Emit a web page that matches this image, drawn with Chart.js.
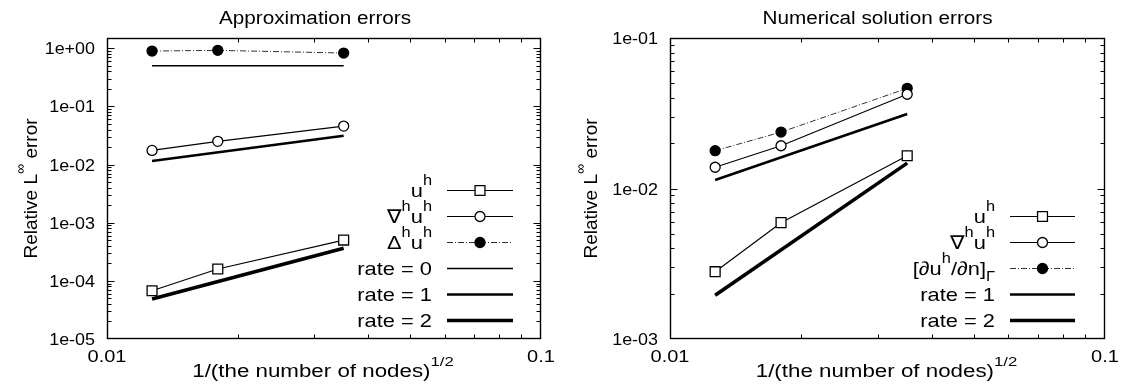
<!DOCTYPE html>
<html><head><meta charset="utf-8">
<script src="https://cdn.jsdelivr.net/npm/chart.js@4.4.0/dist/chart.umd.min.js"></script>
<style>
html,body{margin:0;padding:0;background:#fff;width:1121px;height:391px;overflow:hidden}
#wl{position:absolute;left:0;top:0;width:560px;height:391px}
#wr{position:absolute;left:560px;top:0;width:561px;height:391px}
</style></head><body>
<div id="wl"><canvas id="cl" width="560" height="391"></canvas></div>
<div id="wr"><canvas id="cr" width="561" height="391"></canvas></div>
<script>
// ---------------- data ----------------
const hValues = [0.0127, 0.0180, 0.0351];          // 1/(number of nodes)^1/2
const rateX = [0.0127, 0.0351];                     // x extent of reference slopes

// Approximation errors (left)
const approxU    = [6.76e-5, 1.60e-4, 5.03e-4];
const approxGrad = [0.0175, 0.0251, 0.0459];
const approxLap  = [0.895, 0.920, 0.827];
const approxRate0 = [0.5, 0.5];
const approxRate1 = [0.0115, 0.0313];
const approxRate2 = [4.86e-5, 3.62e-4];

// Numerical solution errors (right)
const numU    = [0.0028, 0.00593, 0.0165];
const numGrad = [0.01384, 0.01924, 0.0423];
const numFlux = [0.01783, 0.0237, 0.0463];
const numRate1 = [0.01139, 0.0313];
const numRate2 = [0.00195, 0.01474];

// text
const leftTitle = 'Approximation errors';
const rightTitle = 'Numerical solution errors';
const xTitle = [{t:'1/(the number of nodes)'},{t:'1/2',sup:true}];
const yTitle = [{t:'Relative L'},{t:'\u221E',sup:true},{t:' error'}];
const labU    = [{t:'u'},{t:'h',sup:true}];
const labGrad = [{t:'\u2207'},{t:'h',sup:true},{t:'u'},{t:'h',sup:true}];
const labLap  = [{t:'\u0394'},{t:'h',sup:true},{t:'u'},{t:'h',sup:true}];
const labFlux = [{t:'[\u2202u'},{t:'h',sup:true},{t:'/\u2202n]'},{t:'\u0393',sub:true}];
const labR0 = [{t:'rate = 0'}];
const labR1 = [{t:'rate = 1'}];
const labR2 = [{t:'rate = 2'}];

// tick marks
const xMinorTicks = [0.02,0.03,0.04,0.05,0.06,0.07,0.08,0.09];
const minorMult = [2,3,4,5,6,7,8,9];

// ---------------- helpers ----------------
const FONT = '"Liberation Sans", Arial, Helvetica, sans-serif';
const SX = 1.15;      // horizontal stretch of the reference lettering
const TXT = 18;       // title size
const LEG = 19;       // legend size
const TICK = 16;      // tick label size

function pts(xs, ys){ return xs.map((x,i)=>({x:x, y:ys[i]})); }

function ds(label, xs, ys, st){
  return Object.assign({
    label: label, data: pts(xs, ys), showLine: true, fill: false,
    borderColor: '#000', backgroundColor: '#000', borderWidth: 1.2,
    pointRadius: 0, pointHoverRadius: 0, pointBorderColor: '#000',
    pointBackgroundColor: '#fff', pointBorderWidth: 1.3, tension: 0
  }, st);
}

function segSize(s, size){ return (s.sup||s.sub) ? size*0.75 : size; }
function richWidth(ctx, segs, size){
  let w = 0;
  for (const s of segs){
    ctx.font = segSize(s,size) + 'px ' + FONT;
    w += ctx.measureText(s.t).width;
  }
  return w;
}
function drawRich(ctx, segs, x, y, align, size, sx){
  sx = sx || 1;
  const w = richWidth(ctx, segs, size) * sx;
  const x0 = align === 'right' ? x - w : (align === 'center' ? x - w/2 : x);
  ctx.save();
  ctx.translate(x0, y); ctx.scale(sx, 1);
  ctx.textAlign = 'left'; ctx.textBaseline = 'alphabetic'; ctx.fillStyle = '#000';
  let cx = 0;
  for (const s of segs){
    ctx.font = segSize(s,size) + 'px ' + FONT;
    const dy = s.sup ? -size*0.62 : (s.sub ? size*0.32 : 0);
    ctx.fillText(s.t, cx, dy);
    cx += ctx.measureText(s.t).width;
  }
  ctx.restore();
}
function drawMarker(ctx, style, r, x, y, fillC, bw){
  ctx.save();
  ctx.lineWidth = bw; ctx.strokeStyle = '#000'; ctx.fillStyle = fillC;
  ctx.beginPath();
  if (style === 'rect'){ const s = Math.SQRT1_2 * r; ctx.rect(x-s, y-s, 2*s, 2*s); }
  else ctx.arc(x, y, r, 0, Math.PI*2);
  ctx.fill(); ctx.stroke();
  ctx.restore();
}

function yTickLabel(v){
  const e = Math.round(Math.log10(v));
  const b = Math.pow(10, e);
  if (Math.abs(v - b) / b > 1e-6) return '';
  return '1e' + (e < 0 ? '-' : '+') + String(Math.abs(e)).padStart(2, '0');
}
function xTickLabel(v){
  if (Math.abs(v - 0.01) < 1e-9) return '0.01';
  if (Math.abs(v - 0.1) < 1e-9) return '0.1';
  return '';
}

const framePlugin = {
  id: 'gnuframe',
  afterDraw(chart, args, o){
    const ctx = chart.ctx, a = chart.chartArea, xs = chart.scales.x, ys = chart.scales.y;
    ctx.save();
    ctx.strokeStyle = '#000'; ctx.lineWidth = 1.4;
    const L = Math.round(a.left)+0.5, R = Math.round(a.right)-0.5, T = Math.round(a.top)+0.5, B = Math.round(a.bottom)-0.5;
    ctx.strokeRect(L, T, R-L, B-T);
    ctx.lineWidth = 1;
    ctx.beginPath();
    for (const v of xMinorTicks){
      const p = Math.round(xs.getPixelForValue(v))+0.5;
      ctx.moveTo(p, B); ctx.lineTo(p, B-4);
      ctx.moveTo(p, T); ctx.lineTo(p, T+4);
    }
    for (let e = o.yMinExp; e <= o.yMaxExp; e++){
      const base = Math.pow(10, e);
      const pm = Math.round(ys.getPixelForValue(base))+0.5;
      if (pm > T+1 && pm < B-1){ ctx.moveTo(L, pm); ctx.lineTo(L+7, pm); ctx.moveTo(R, pm); ctx.lineTo(R-7, pm); }
      for (const m of o.yMinor){
        const v = m*base;
        if (v <= ys.min || v >= ys.max) continue;
        const p = Math.round(ys.getPixelForValue(v))+0.5;
        ctx.moveTo(L, p); ctx.lineTo(L+4, p); ctx.moveTo(R, p); ctx.lineTo(R-4, p);
      }
    }
    ctx.stroke();

    // tick labels from the library's tick values
    for (const t of ys.ticks){
      const lab = yTickLabel(t.value);
      if (!lab) continue;
      const p = ys.getPixelForValue(t.value);
      drawRich(ctx, [{t:lab}], a.left - 12, p + 6, 'right', TICK, 1.12);
    }
    for (const t of xs.ticks){
      const lab = xTickLabel(t.value);
      if (!lab) continue;
      const p = xs.getPixelForValue(t.value);
      drawRich(ctx, [{t:lab}], p, a.bottom + 23, 'center', TICK, 1.25);
    }

    // titles
    drawRich(ctx, [{t:o.title}], (a.left+a.right)/2 + o.titleShift, 24, 'center', TXT, SX);
    drawRich(ctx, xTitle, (a.left+a.right)/2 - 1, 377, 'center', TXT, 1.24);
    ctx.save();
    ctx.translate(o.yTitleX, (a.top+a.bottom)/2);
    ctx.rotate(-Math.PI/2);
    drawRich(ctx, yTitle, 0, 0, 'center', 19, 1);
    ctx.restore();

    // legend
    const lg = o.legend;
    chart.data.datasets.forEach((d, i) => {
      const ry = lg.rows[i];
      drawRich(ctx, lg.labels[i], lg.textRight, ry + 7, 'right', LEG, SX);
      ctx.save();
      ctx.strokeStyle = d.borderColor; ctx.lineWidth = d.borderWidth;
      ctx.setLineDash(d.borderDash || []);
      ctx.beginPath(); ctx.moveTo(lg.x1, ry+0.5); ctx.lineTo(lg.x2, ry+0.5); ctx.stroke();
      ctx.restore();
      if (d.pointRadius > 0) drawMarker(ctx, d.pointStyle, d.pointRadius, (lg.x1+lg.x2)/2, ry+0.5, d.pointBackgroundColor, d.pointBorderWidth);
    });
    ctx.restore();
  }
};

function makeChart(id, datasets, yMin, yMax, yAxisWidth, padRight, extra){
  return new Chart(document.getElementById(id), {
    type: 'scatter',
    data: { datasets: datasets },
    plugins: [framePlugin],
    options: {
      responsive: false, animation: false, devicePixelRatio: 1,
      layout: { padding: { left: 0, right: padRight, top: 38, bottom: 0 } },
      plugins: { legend: { display: false }, tooltip: { enabled: false }, title: { display: false },
                 gnuframe: extra },
      scales: {
        x: { type: 'logarithmic', min: 0.01, max: 0.1,
             grid: { display: false, drawTicks: false }, border: { display: false },
             ticks: { display: false, autoSkip: false, callback: xTickLabel },
             afterFit(s){ s.height = 52; } },
        y: { type: 'logarithmic', min: yMin, max: yMax,
             grid: { display: false, drawTicks: false }, border: { display: false },
             ticks: { display: false, autoSkip: false, callback: yTickLabel },
             afterFit(s){ s.width = yAxisWidth; } }
      }
    }
  });
}

const dash = [6, 2, 1, 2];

makeChart('cl', [
  ds('u', hValues, approxU, { pointRadius: 7, pointStyle: 'rect' }),
  ds('grad', hValues, approxGrad, { pointRadius: 5, pointStyle: 'circle' }),
  ds('lap', hValues, approxLap, { pointRadius: 5, pointStyle: 'circle', pointBackgroundColor: '#000', borderColor: '#333', borderWidth: 1, borderDash: dash }),
  ds('rate0', rateX, approxRate0, { borderWidth: 1.6 }),
  ds('rate1', rateX, approxRate1, { borderWidth: 2.6 }),
  ds('rate2', rateX, approxRate2, { borderWidth: 3.6 })
], 1e-5, 1.5, 107, 19, {
  title: leftTitle, titleShift: -9, yTitleX: 37, yMinExp: -5, yMaxExp: 0, yMinor: minorMult,
  legend: { textRight: 432, x1: 447, x2: 513, rows: [190, 216, 242, 268, 294, 320],
            labels: [labU, labGrad, labLap, labR0, labR1, labR2] }
});

makeChart('cr', [
  ds('u', hValues, numU, { pointRadius: 7, pointStyle: 'rect' }),
  ds('grad', hValues, numGrad, { pointRadius: 5, pointStyle: 'circle' }),
  ds('flux', hValues, numFlux, { pointRadius: 5, pointStyle: 'circle', pointBackgroundColor: '#000', borderColor: '#333', borderWidth: 1, borderDash: dash }),
  ds('rate1', rateX, numRate1, { borderWidth: 2.6 }),
  ds('rate2', rateX, numRate2, { borderWidth: 3.6 })
], 1e-3, 1e-1, 110, 16, {
  title: rightTitle, titleShift: -10, yTitleX: 37, yMinExp: -3, yMaxExp: -1, yMinor: minorMult,
  legend: { textRight: 435, x1: 450, x2: 515, rows: [216, 242, 268, 294, 320],
            labels: [labU, labGrad, labFlux, labR1, labR2] }
});
</script>
</body></html>
